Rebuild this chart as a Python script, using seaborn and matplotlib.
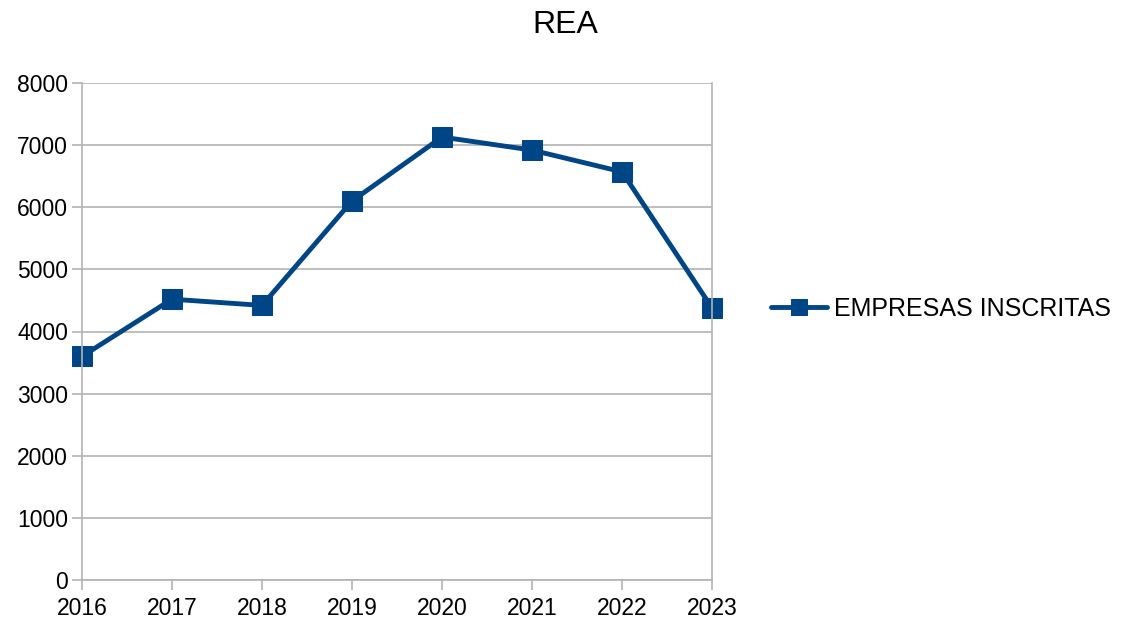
import pandas as pd
import seaborn as sns
import matplotlib.pyplot as plt

# Data
years = [2016, 2017, 2018, 2019, 2020, 2021, 2022, 2023]
empresas = [3600, 4520, 4420, 6100, 7130, 6920, 6570, 4380]
series_name = 'EMPRESAS INSCRITAS'

df = pd.DataFrame({'year': years, 'value': empresas, 'serie': series_name})

sns.set_style('white')
plt.rcParams['font.family'] = ['Liberation Sans', 'DejaVu Sans']
plt.rcParams['text.color'] = 'black'

fig = plt.figure(figsize=(11.21, 6.25), dpi=100)
ax = fig.add_axes([82 / 1121, 45 / 625, 630 / 1121, 497 / 625])

blue = '#004586'
sns.lineplot(data=df, x='year', y='value', hue='serie', palette=[blue],
             marker='s', markersize=14, linewidth=3.5, markeredgecolor=blue,
             ax=ax)
for line in ax.lines:
    line.set_clip_on(False)

ax.set_xlim(years[0], years[-1])
ax.set_ylim(0, 8000)
ax.set_yticks(range(0, 8001, 1000))
ax.set_xticks(years)
ax.set_xlabel('')
ax.set_ylabel('')
ax.yaxis.grid(True, color='#b3b3b3', linewidth=1.2)
ax.xaxis.grid(False)

for side in ['left', 'bottom', 'right']:
    ax.spines[side].set_visible(True)
    ax.spines[side].set_color('#b3b3b3')
    ax.spines[side].set_linewidth(1.2)
ax.spines['top'].set_visible(False)

ax.tick_params(axis='both', which='both', length=7, width=1.2, color='#b3b3b3',
               labelsize=16.5, labelcolor='black')
ax.tick_params(axis='x', direction='out', bottom=True, pad=5)
ax.tick_params(axis='y', direction='out', left=True, pad=3)

fig.text(565 / 1121, 1 - 25 / 625, 'REA', fontsize=23, ha='center', va='center',
         color='black')

leg = ax.legend(loc='center left', bbox_to_anchor=(1.058, 0.545), frameon=False,
                fontsize=18, handlelength=2.25, handletextpad=0.25)
for t in leg.get_texts():
    t.set_color('black')
for h in leg.legend_handles:
    h.set_markersize(11)

fig.savefig('out.png', dpi=100)
